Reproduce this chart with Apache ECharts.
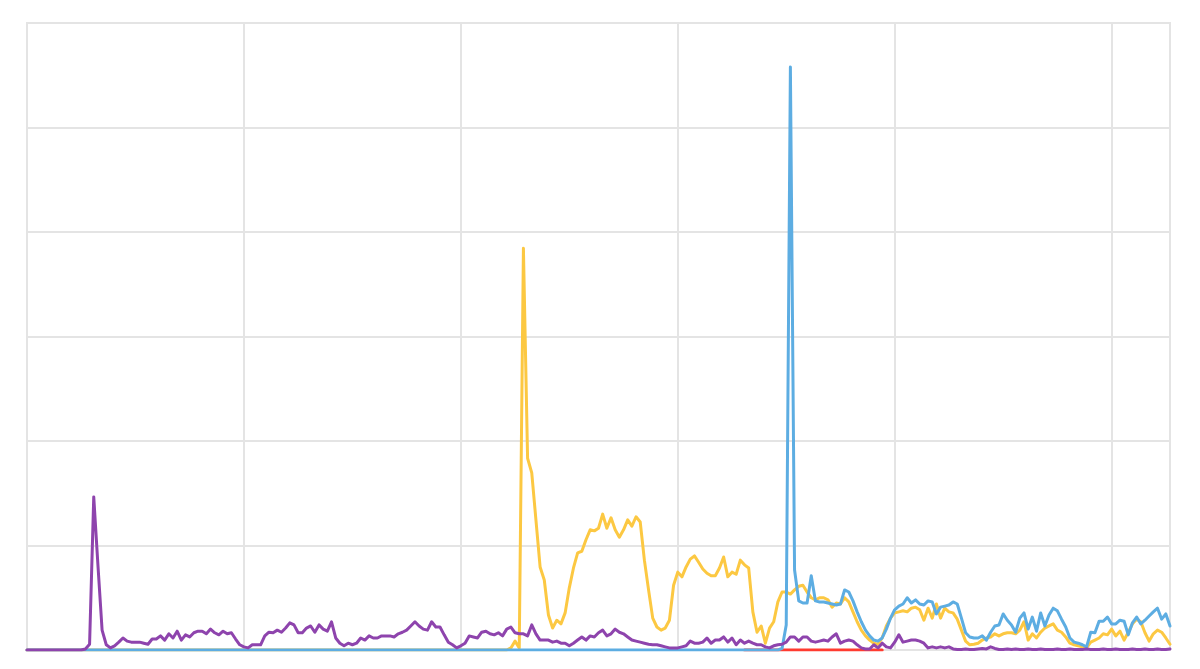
<!DOCTYPE html>
<html>
<head>
<meta charset="utf-8">
<script src="https://cdn.jsdelivr.net/npm/echarts@6/dist/echarts.min.js"></script>
<style>
  html, body { margin: 0; padding: 0; background: #ffffff; }
  #chart { width: 1200px; height: 669px; }
</style>
</head>
<body>
<div id="chart"></div>
<script>
// Weekly index values (275 weeks); vertical grid lines mark every 52nd week.
const weeks = [];
for (let i = 0; i < 275; i++) { weeks.push('W' + (i + 1)); }

const purpleValues = [
  0,0,0,0,0,0,0,0,0,0,
  0,0,0,0,0.2,1.1,29.3,16.3,3.8,1,
  0.4,0.8,1.5,2.3,1.7,1.5,1.5,1.5,1.3,1.1,
  2.1,2.1,2.7,1.9,3.1,2.3,3.6,1.9,2.9,2.5,
  3.3,3.6,3.6,3.1,4,3.3,2.9,3.6,3.1,3.3,
  2.1,1,0.6,0.4,1,1,1,2.7,3.4,3.3,
  3.8,3.4,4.2,5.2,4.8,3.3,3.3,4.2,4.6,3.4,
  4.8,4,3.6,5.4,2.3,1.3,0.8,1.3,1,1.3,
  2.3,1.9,2.7,2.3,2.3,2.7,2.7,2.7,2.5,3.1,
  3.4,3.8,4.6,5.4,4.6,4,3.8,5.4,4.4,4.4,
  2.9,1.5,1,0.4,0.8,1.3,2.7,2.5,2.3,3.4,
  3.6,3.1,2.9,3.3,2.7,4,4.4,3.3,3.1,3.1,
  2.7,4.8,3.1,1.9,1.9,1.9,1.5,1.7,1.3,1.3,
  0.8,1.3,1.9,2.5,1.9,2.7,2.5,3.3,3.8,2.7,
  3.1,4,3.4,3.1,2.5,1.9,1.7,1.5,1.3,1.1,
  1,1,0.8,0.6,0.4,0.4,0.4,0.6,0.8,1.7,
  1.3,1.3,1.5,2.3,1.3,1.9,1.9,2.5,1.5,2.3,
  1,1.9,1.3,1.7,1.3,1,1,0.6,0.4,0.8,
  1,1.1,1.5,2.5,2.5,1.7,2.5,2.5,1.7,1.5,
  1.7,1.9,1.7,2.5,3.1,1.3,1.7,1.9,1.7,1,
  0.4,0.2,0.2,1,0.4,1.3,0.6,0.4,1.5,2.9,
  1.5,1.7,1.9,1.9,1.7,1.3,0.4,0.6,0.4,0.6,
  0.4,0.6,0.2,0.1,0.1,0.2,0.1,0.1,0.2,0.3,
  0.2,0.6,0.3,0.1,0.1,0.2,0.1,0.2,0.1,0.1,
  0.2,0.1,0.1,0.2,0.1,0.1,0.1,0.2,0.1,0.1,
  0.2,0.1,0.1,0.1,0.2,0.1,0.1,0.1,0.2,0.1,
  0.1,0.2,0.1,0.1,0.1,0.2,0.1,0.1,0.2,0.1,
  0.1,0.2,0.1,0.1,0.2
];

const blueValues = [
  0,0,0,0,0,0,0,0,0,0,
  0,0,0,0,0,0,0,0,0,0,
  0,0,0,0,0,0,0,0,0,0,
  0,0,0,0,0,0,0,0,0,0,
  0,0,0,0,0,0,0,0,0,0,
  0,0,0,0,0,0,0,0,0,0,
  0,0,0,0,0,0,0,0,0,0,
  0,0,0,0,0,0,0,0,0,0,
  0,0,0,0,0,0,0,0,0,0,
  0,0,0,0,0,0,0,0,0,0,
  0,0,0,0,0,0,0,0,0,0,
  0,0,0,0,0,0,0,0,0,0,
  0,0,0,0,0,0,0,0,0,0,
  0,0,0,0,0,0,0,0,0,0,
  0,0,0,0,0,0,0,0,0,0,
  0,0,0,0,0,0,0,0,0,0,
  0,0,0,0,0,0,0,0,0,0,
  0,0,0,0,0,0,0,0,0,0,
  0,0.3,4.8,111.6,15.3,9.4,9,9,14.2,9.4,
  9.2,9.2,9,8.8,8.6,8.8,11.5,11.1,9.4,7.3,
  5.4,3.8,2.7,1.9,1.7,2.3,4,6.1,7.7,8.4,
  8.8,10,9,9.6,8.8,8.6,9.4,9.2,6.9,8.2,
  8.4,8.6,9.2,8.8,6.1,3.3,2.5,2.3,2.3,2.7,
  1.9,3.4,4.6,4.8,6.9,5.7,4.8,3.4,6.1,7.1,
  4,6.3,3.6,7.1,4.6,6.7,8,7.5,5.9,4.4,
  2.3,1.5,1.3,1,0.6,3.4,3.3,5.5,5.5,6.3,
  5,5,5.7,5.5,2.9,5.2,6.3,5,5.7,6.5,
  7.3,8,5.9,6.9,4.6
];

const yellowValues = [
  0,0,0,0,0,0,0,0,0,0,
  0,0,0,0,0,0,0,0,0,0,
  0,0,0,0,0,0,0,0,0,0,
  0,0,0,0,0,0,0,0,0,0,
  0,0,0,0,0,0,0,0,0,0,
  0,0,0,0,0,0,0,0,0,0,
  0,0,0,0,0,0,0,0,0,0,
  0,0,0,0,0,0,0,0,0,0,
  0,0,0,0,0,0,0,0,0,0,
  0,0,0,0,0,0,0,0,0,0,
  0,0,0,0,0,0,0,0,0,0,
  0,0,0,0,0,0,0.4,1.7,0.4,76.9,
  36.7,33.9,24.9,15.9,13.4,6.7,4.2,5.7,5,7.1,
  11.9,15.7,18.6,18.9,21.1,23,22.8,23.3,26,23.3,
  25.3,23,21.6,23,24.9,23.7,25.5,24.5,17.2,11.5,
  6.1,4.4,3.8,4.2,5.7,12.4,14.9,14,15.9,17.4,
  18,16.8,15.5,14.7,14.2,14.2,15.7,17.8,14,14.9,
  14.5,17.2,16.3,15.7,7.3,3.4,4.6,1.3,4.2,5.4,
  9.2,11.1,11.1,10.7,11.5,12.2,12.4,11.1,10,9.6,
  10,10,9.6,8.2,9,8.8,10,9.2,7.3,5.4,
  3.8,2.7,1.9,1.3,1.1,2.3,4.6,6.1,7.1,7.3,
  7.5,7.3,8,8.2,7.7,5.7,8,6.1,8.8,6.1,
  8,7.3,7.1,5.9,3.8,1.7,1,1.1,1.3,1.9,
  2.3,2.5,3.1,2.7,3.1,3.3,3.3,3.1,3.8,5.4,
  1.9,3.1,2.3,3.4,4.2,4.6,5,3.8,3.4,2.5,
  1.3,1,0.8,0.6,0.4,1.5,1.9,2.3,3.1,2.9,
  4,2.7,3.6,1.9,3.4,5,5.9,5.4,3.3,1.7,
  3.1,3.8,3.4,2.3,1.1
];

const N = null;
const redValues = [
  N,N,N,N,N,N,N,N,N,N, N,N,N,N,N,N,N,N,N,N,
  N,N,N,N,N,N,N,N,N,N, N,N,N,N,N,N,N,N,N,N,
  N,N,N,N,N,N,N,N,N,N, N,N,N,N,N,N,N,N,N,N,
  N,N,N,N,N,N,N,N,N,N, N,N,N,N,N,N,N,N,N,N,
  N,N,N,N,N,N,N,N,N,N, N,N,N,N,N,N,N,N,N,N,
  N,N,N,N,N,N,N,N,N,N, N,N,N,N,N,N,N,N,N,N,
  N,N,N,N,N,N,N,N,N,N, N,N,N,N,N,N,N,N,N,N,
  N,N,N,N,N,N,N,N,N,N, N,N,N,N,N,N,N,N,N,N,
  N,N,N,N,N,N,N,N,N,N, N,N,0,0,0,0,0,0,0,0,
  0,0,0,0,0,0,0,0,0,0, 0,0,0,0,0,0,0,0,0,0,
  0,0,0,0,0,0,N,N,N,N, N,N,N,N,N,N,N,N,N,N,
  N,N,N,N,N,N,N,N,N,N, N,N,N,N,N,N,N,N,N,N,
  N,N,N,N,N,N,N,N,N,N, N,N,N,N,N,N,N,N,N,N,
  N,N,N,N,N,N,N,N,N,N, N,N,N,N,N
];

const chart = echarts.init(document.getElementById('chart'), null, { renderer: 'canvas' });

function lineSeries(name, data, color) {
  return {
    name: name,
    type: 'line',
    data: data,
    showSymbol: false,
    symbol: 'none',
    smooth: false,
    connectNulls: false,
    lineStyle: { color: color, width: 3, join: 'round', cap: 'round' },
    itemStyle: { color: color },
    emphasis: { disabled: true }
  };
}

chart.setOption({
  animation: false,
  backgroundColor: '#ffffff',
  grid: {
    left: 27, right: 30, top: 23, bottom: 19,
    show: true, borderColor: '#e4e4e4', borderWidth: 2, backgroundColor: 'transparent'
  },
  xAxis: {
    type: 'category',
    data: weeks,
    boundaryGap: false,
    axisLine: { show: false },
    axisTick: { show: false },
    axisLabel: { show: false },
    splitLine: { show: true, interval: 51, lineStyle: { color: '#e4e4e4', width: 2 } }
  },
  yAxis: {
    type: 'value',
    min: 0, max: 120, interval: 20,
    axisLine: { show: false },
    axisTick: { show: false },
    axisLabel: { show: false },
    splitLine: { show: true, lineStyle: { color: '#e4e4e4', width: 2 } }
  },
  series: [
    lineSeries('Yellow', yellowValues, '#fcc842'),
    lineSeries('Red', redValues, '#ff3b30'),
    lineSeries('Blue', blueValues, '#5dade2'),
    lineSeries('Purple', purpleValues, '#8e44ad')
  ]
});
</script>
</body>
</html>
